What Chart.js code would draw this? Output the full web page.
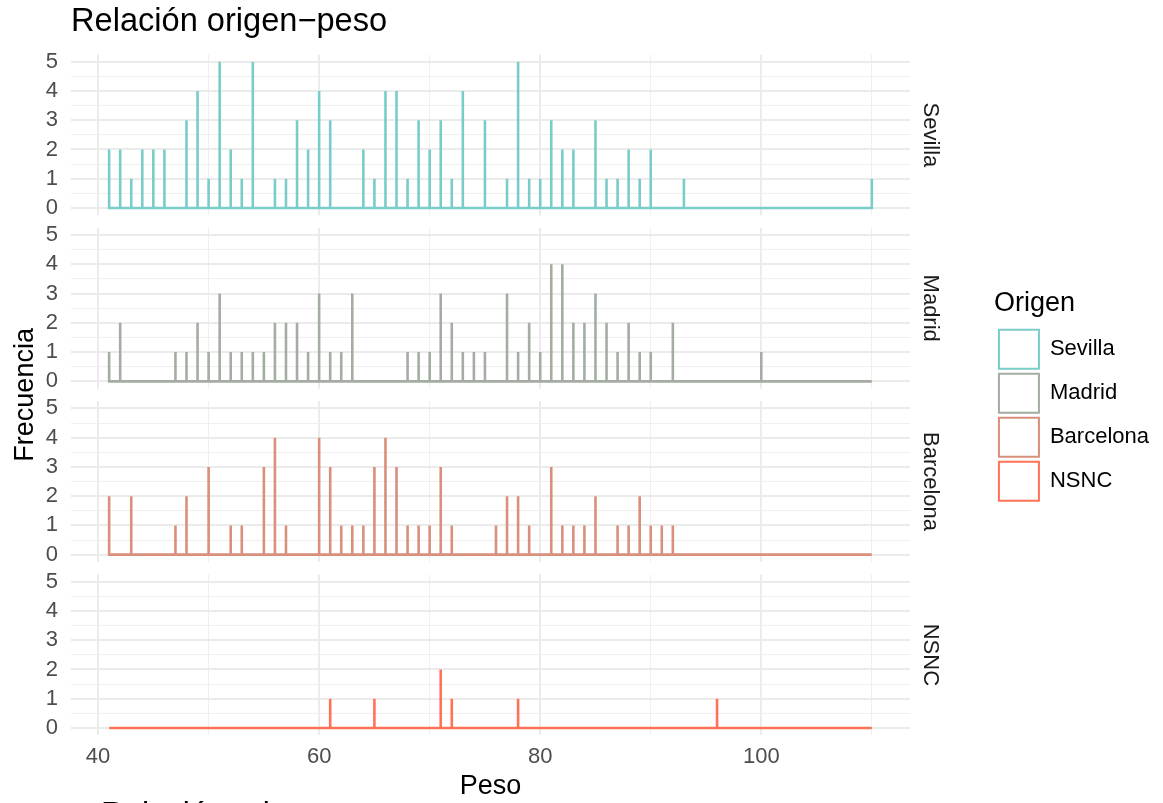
<!DOCTYPE html>
<html lang="es">
<head>
<meta charset="utf-8">
<title>Relación origen−peso</title>
<script src="https://cdn.jsdelivr.net/npm/chart.js@4.4.1/dist/chart.umd.min.js"></script>
<style>
  html, body { margin: 0; padding: 0; background: #ffffff; overflow: hidden; }
  #lienzo { position: relative; width: 1163px; height: 803px; overflow: hidden; }
  #grafico { position: absolute; left: 0; top: 0; }
  #pie {
    position: absolute; left: 101px; top: 795px;
    font: 32px "Liberation Sans", Arial, Helvetica, sans-serif;
    color: #000000; white-space: nowrap;
  }
</style>
</head>
<body>
<div id="lienzo">
  <canvas id="grafico" width="1163" height="803"></canvas>
  <div id="pie">Relación origen−peso</div>
</div>
<script>
// Frecuencia de cada peso (kg) por origen
const origenes = ['Sevilla', 'Madrid', 'Barcelona', 'NSNC'];
const colores = ['#79ccc8', '#a3ada1', '#d98f7b', '#ff7256'];

const sevillaPeso = [41, 42, 43, 44, 45, 46, 48, 49, 50, 51, 52, 53, 54, 56, 57, 58, 59, 60, 61,
  64, 65, 66, 67, 68, 69, 70, 71, 72, 73, 75, 77, 78, 79, 80, 81, 82, 83, 85, 86, 87, 88, 89, 90, 93, 110];
const sevillaFrec = [2, 2, 1, 2, 2, 2, 3, 4, 1, 5, 2, 1, 5, 1, 1, 3, 2, 4, 3,
  2, 1, 4, 4, 1, 3, 2, 3, 1, 4, 3, 1, 5, 1, 1, 3, 2, 2, 3, 1, 1, 2, 1, 2, 1, 1];

const madridPeso = [41, 42, 47, 48, 49, 50, 51, 52, 53, 54, 55, 56, 57, 58, 59, 60, 61, 62, 63,
  68, 69, 70, 71, 72, 73, 74, 75, 77, 78, 79, 80, 81, 82, 83, 84, 85, 86, 87, 88, 89, 90, 92, 100];
const madridFrec = [1, 2, 1, 1, 2, 1, 3, 1, 1, 1, 1, 2, 2, 2, 1, 3, 1, 1, 3,
  1, 1, 1, 3, 2, 1, 1, 1, 3, 1, 2, 1, 4, 4, 2, 2, 3, 2, 1, 2, 1, 1, 2, 1];

const barcelonaPeso = [41, 43, 47, 48, 50, 52, 53, 55, 56, 57, 60, 61, 62, 63, 64, 65, 66, 67, 68,
  69, 70, 71, 72, 76, 77, 78, 79, 81, 82, 83, 84, 85, 87, 88, 89, 90, 91, 92];
const barcelonaFrec = [2, 2, 1, 2, 3, 1, 1, 3, 4, 1, 4, 3, 1, 1, 1, 3, 4, 3, 1,
  1, 1, 3, 1, 1, 2, 2, 1, 3, 1, 1, 1, 2, 1, 1, 2, 1, 1, 1];

const nsncPeso = [61, 65, 71, 72, 78, 96];
const nsncFrec = [1, 1, 2, 1, 1, 1];

// Marcas de los ejes
const marcasPeso = [40, 50, 60, 70, 80, 90, 100, 110];
const etiquetasPeso = [40, 60, 80, 100];
const marcasFrec = [0, 0.5, 1, 1.5, 2, 2.5, 3, 3.5, 4, 4.5, 5];
const etiquetasFrec = [0, 1, 2, 3, 4, 5];

const titulo = 'Relación origen−peso';
const tituloX = 'Peso';
const tituloY = 'Frecuencia';
const tituloLeyenda = 'Origen';

// Rango común de pesos y margen del 5 % a cada lado
const todosPesos = [].concat(sevillaPeso, madridPeso, barcelonaPeso, nsncPeso);
const pesoMin = Math.min(...todosPesos);
const pesoMax = Math.max(...todosPesos);
const margenX = (pesoMax - pesoMin) * 0.05;
const frecMax = Math.max(...etiquetasFrec);
const margenY = frecMax * 0.05;

// Polígono de frecuencias: línea base con un pico en cada peso observado
function picos(pesos, frecs) {
  const puntos = [];
  for (let p = pesoMin; p <= pesoMax; p++) {
    puntos.push({ x: p, y: 0 });
    const i = pesos.indexOf(p);
    if (i >= 0) {
      puntos.push({ x: p, y: frecs[i] });
      puntos.push({ x: p, y: 0 });
    }
  }
  return puntos;
}

const series = [
  picos(sevillaPeso, sevillaFrec),
  picos(madridPeso, madridFrec),
  picos(barcelonaPeso, barcelonaFrec),
  picos(nsncPeso, nsncFrec)
];

Chart.defaults.font.family = '"Liberation Sans", Arial, Helvetica, sans-serif';
Chart.defaults.font.weight = 'normal';

const gris92 = '#ebebeb';
const pesoPanel = 160.6;
const pesoHueco = 12.4;
const letraPequena = 22;

// anchos y altos fijos de las franjas alrededor de los paneles
const anchoTituloY = 46;
const anchoEjeY = 25;
const anchoTira = 84;
const altoEjeX = 67.7;

// Eje de frecuencia de un panel (izquierda, apilado)
function ejePanel(orden) {
  return {
    type: 'linear', position: 'left', stack: 'paneles', stackWeight: pesoPanel, weight: orden,
    min: -margenY, max: frecMax + margenY, bounds: 'data',
    afterBuildTicks: eje => { eje.ticks = marcasFrec.map(v => ({ value: v })); },
    afterFit: eje => { eje.width = anchoEjeY; },
    ticks: {
      autoSkip: false, padding: 13, color: '#4d4d4d', font: { size: letraPequena },
      callback: v => (etiquetasFrec.includes(v) ? String(v) : '')
    },
    grid: {
      drawTicks: false,
      color: c => (c.tick && etiquetasFrec.includes(c.tick.value) ? gris92 : '#efefef'),
      lineWidth: c => (c.tick && etiquetasFrec.includes(c.tick.value) ? 2 : 1)
    },
    border: { display: false }
  };
}
function huecoIzq(orden) {
  return { type: 'linear', display: false, position: 'left', stack: 'paneles', stackWeight: pesoHueco, weight: orden };
}
// Rótulo de cada panel (derecha, apilado)
function tira(texto, orden) {
  return {
    type: 'linear', position: 'right', stack: 'tiras', stackWeight: pesoPanel, weight: orden,
    afterFit: eje => { eje.width = anchoTira; },
    ticks: { display: false }, grid: { display: false }, border: { display: false },
    title: { display: true, text: texto, color: '#1a1a1a', font: { size: letraPequena }, padding: { top: 50.3, bottom: 7.3 } }
  };
}
function huecoDer(orden) {
  return { type: 'linear', display: false, position: 'right', stack: 'tiras', stackWeight: pesoHueco, weight: orden };
}

const idsEje = ['ySevilla', 'yMadrid', 'yBarcelona', 'yNSNC'];
const idsHueco = ['yHueco1', 'yHueco2', 'yHueco3'];

const escalas = {
  x: {
    type: 'linear', position: 'bottom', min: pesoMin - margenX, max: pesoMax + margenX, bounds: 'data',
    afterBuildTicks: eje => { eje.ticks = marcasPeso.map(v => ({ value: v })); },
    afterFit: eje => { eje.height = altoEjeX; },
    ticks: {
      autoSkip: false, maxRotation: 0, padding: 8.5, color: '#4d4d4d', font: { size: letraPequena },
      callback: v => (etiquetasPeso.includes(v) ? String(v) : '')
    },
    grid: {
      drawTicks: false,
      color: c => (c.tick && etiquetasPeso.includes(c.tick.value) ? gris92 : '#efefef'),
      lineWidth: c => (c.tick && etiquetasPeso.includes(c.tick.value) ? 2 : 1)
    },
    border: { display: false },
    title: { display: true, text: tituloX, color: '#000000', font: { size: 27 }, padding: { top: 2.5, bottom: 0 } }
  },
  // título común del eje vertical, a la izquierda de los paneles
  yTitulo: {
    type: 'linear', position: 'left', weight: 10,
    afterFit: eje => { eje.width = anchoTituloY; },
    ticks: { display: false }, grid: { display: false }, border: { display: false },
    title: { display: true, text: tituloY, color: '#000000', font: { size: 27 }, padding: { top: 9, bottom: 4.6 } }
  },
  // a la izquierda, mayor peso = más arriba en la pila
  ySevilla: ejePanel(0.7),
  yHueco1: huecoIzq(0.6),
  yMadrid: ejePanel(0.5),
  yHueco2: huecoIzq(0.4),
  yBarcelona: ejePanel(0.3),
  yHueco3: huecoIzq(0.2),
  yNSNC: ejePanel(0.1),
  // a la derecha, menor peso = más arriba en la pila
  yTiraSevilla: tira('Sevilla', 0.1),
  yTiraHueco1: huecoDer(0.2),
  yTiraMadrid: tira('Madrid', 0.3),
  yTiraHueco2: huecoDer(0.4),
  yTiraBarcelona: tira('Barcelona', 0.5),
  yTiraHueco3: huecoDer(0.6),
  yTiraNSNC: tira('NSNC', 0.7)
};

// Deja en blanco la separación entre paneles
const separarPaneles = {
  id: 'separarPaneles',
  beforeDatasetsDraw(chart) {
    const { ctx, chartArea } = chart;
    ctx.save();
    ctx.fillStyle = '#ffffff';
    idsHueco.forEach(id => {
      const e = chart.scales[id];
      ctx.fillRect(chartArea.left - 1, e.top, chartArea.right - chartArea.left + 2, e.bottom - e.top);
    });
    ctx.restore();
  }
};

new Chart(document.getElementById('grafico'), {
  type: 'line',
  data: {
    datasets: origenes.map((o, i) => ({
      label: o,
      data: series[i],
      yAxisID: idsEje[i],
      borderColor: colores[i],
      backgroundColor: '#ffffff',
      borderWidth: 2.6,
      borderCapStyle: 'butt',
      borderJoinStyle: 'miter',
      pointRadius: 0,
      pointHoverRadius: 0,
      fill: false,
      tension: 0
    }))
  },
  options: {
    responsive: false,
    animation: false,
    devicePixelRatio: 1,
    layout: { padding: { left: 0, right: 4, top: 0, bottom: 0 }, autoPadding: false },
    scales: escalas,
    plugins: {
      title: {
        display: true, text: titulo, align: 'start', fullSize: false, color: '#000000',
        font: { size: 32.6, weight: 'normal' }, padding: { top: 2.6, bottom: 12.7 }
      },
      legend: {
        position: 'right', align: 'center', fullSize: false, maxWidth: 170,
        title: {
          display: true, text: tituloLeyenda, position: 'start', color: '#000000',
          font: { size: 27 }, padding: { top: 6, bottom: 2.6 }
        },
        labels: {
          boxWidth: 40, boxHeight: 39, padding: 5, color: '#000000', font: { size: letraPequena },
          generateLabels: chart => Chart.defaults.plugins.legend.labels.generateLabels(chart)
            .map(l => Object.assign(l, { lineWidth: 2 }))
        }
      },
      tooltip: { enabled: false }
    }
  },
  plugins: [separarPaneles]
});
</script>
</body>
</html>
